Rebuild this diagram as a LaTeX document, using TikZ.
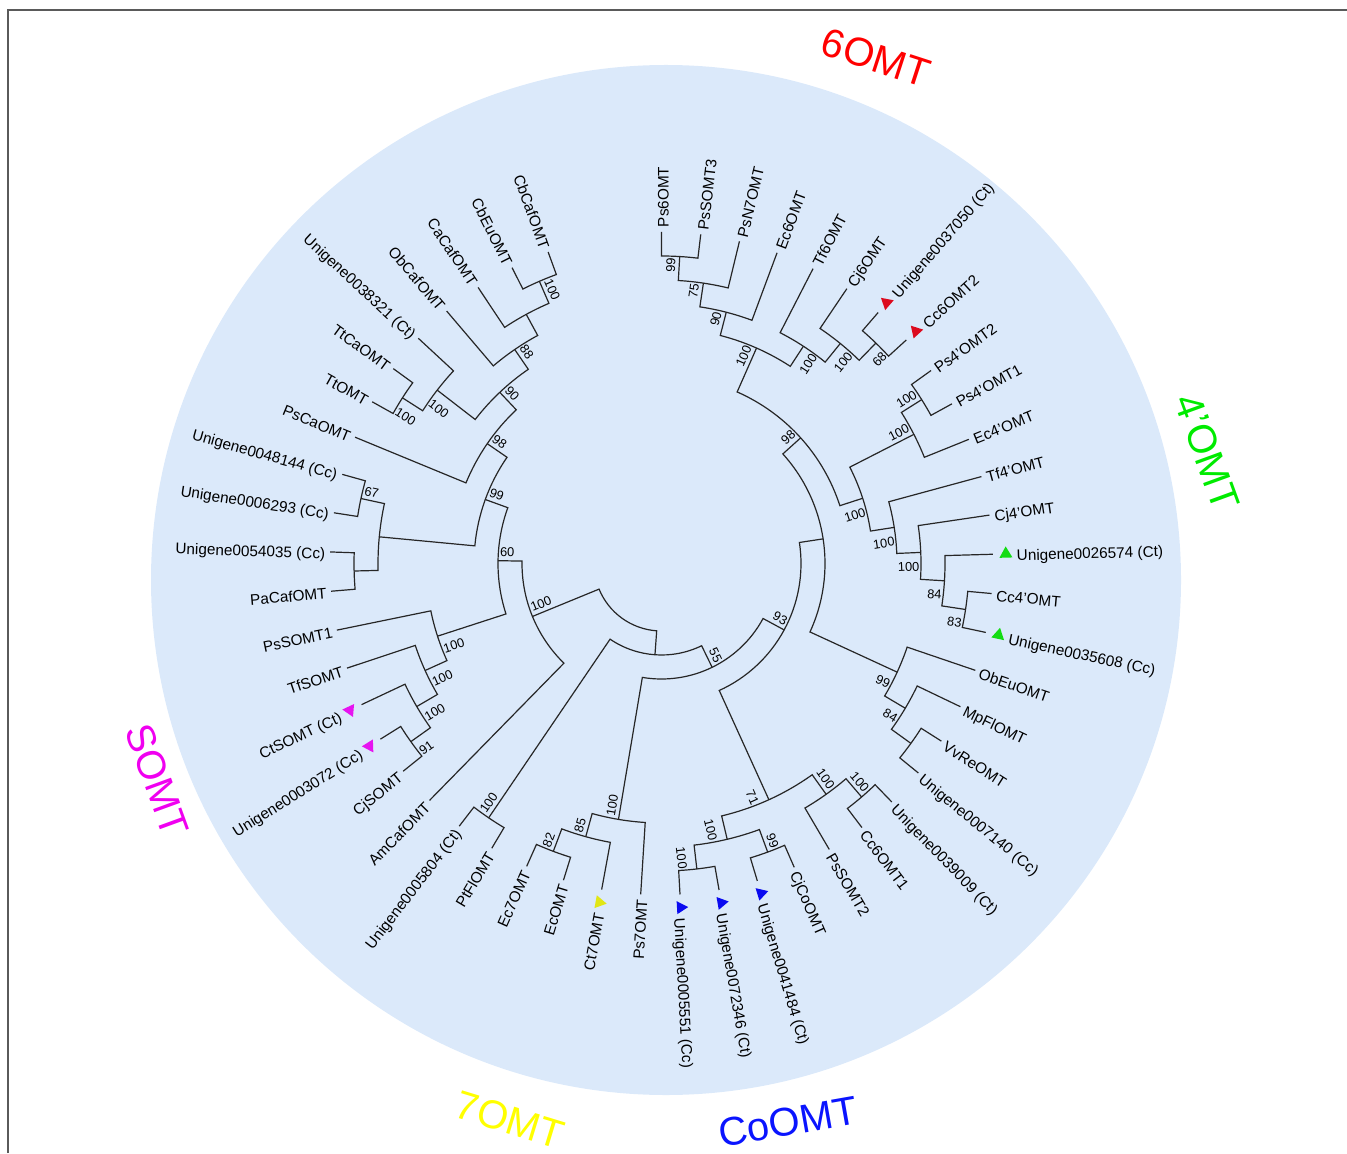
\documentclass[tikz,border=0pt]{standalone}
\usepackage{fontspec}
\setmainfont{Liberation Sans}
\usetikzlibrary{shapes.geometric}

\definecolor{bgblue}{RGB}{219,233,250}
\definecolor{framegray}{RGB}{90,90,90}
\definecolor{tred}{RGB}{220,10,30}
\definecolor{tgreen}{RGB}{20,220,20}
\definecolor{tblue}{RGB}{10,10,240}
\definecolor{tyellow}{RGB}{225,230,20}
\definecolor{tmag}{RGB}{230,20,240}

% leaf tips sit on one circle, every level steps in by \rstep
\newcommand\rleaf{331.5}
\newcommand\rstep{24}

% \leaf[marker colour]{name}{index}{text}
\newcommand\leaf[4][]{%
  \pgfmathsetmacro\ang{90-6.8*#3}%
  \expandafter\xdef\csname th@#2\endcsname{\ang}%
  \coordinate (#2) at (\ang:\rleaf);
  \def\rl{336}%
  \if\relax\detokenize{#1}\relax\else
    \node[tri, fill=#1, rotate=\ang] (#2-m) at (\ang:344.5) {};
    \def\rl{355}%
  \fi
  \ifdim\ang pt>-90pt
    \node[leaflab, anchor=west, rotate=\ang] (#2-t) at (\ang:\rl) {#4};
  \else
    \pgfmathsetmacro\rot{\ang+180}%
    \node[leaflab, anchor=east, rotate=\rot] (#2-t) at (\ang:\rl) {#4};
  \fi
}

% \clade{name}{height}{child a}{child b}{support}{side a/b}
\newcommand\clade[6]{%
  \pgfmathsetmacro\ta{\csname th@#3\endcsname}%
  \pgfmathsetmacro\tb{\csname th@#4\endcsname}%
  \pgfmathsetmacro\tn{(\ta+\tb)/2}%
  \pgfmathsetmacro\rn{\rleaf-\rstep*#2}%
  \expandafter\xdef\csname th@#1\endcsname{\tn}%
  \coordinate (#1) at (\tn:\rn);
  \draw[branch] (#3) -- (\ta:\rn) arc[start angle=\ta, end angle=\tb, radius=\rn] -- (#4);
  \if\relax\detokenize{#5}\relax\else
    \ifdim\tn pt>-90pt
      \edef\rot{\tn}%
      \if#6a\def\anc{south east}\else\def\anc{north east}\fi
    \else
      \pgfmathsetmacro\rot{\tn+180}%
      \if#6a\def\anc{north west}\else\def\anc{south west}\fi
    \fi
    \node[bslab, anchor=\anc, rotate=\rot] (#1-b) at (#1) {#5};
  \fi
}

\begin{document}
\begin{tikzpicture}[x=0.5pt, y=0.5pt,
    branch/.style={line width=0.6pt, draw=black!85},
    leaflab/.style={inner sep=0pt, font=\fontsize{7.65}{9}\selectfont, text height=0.72em, text depth=0pt},
    bslab/.style={inner xsep=0.8pt, inner ysep=1.8pt, font=\fontsize{6.4}{7}\selectfont, text height=0.72em, text depth=0pt},
    tri/.style={regular polygon, regular polygon sides=3, minimum size=7.5pt, inner sep=0pt},
    grouplab/.style={font=\fontsize{20}{24}\selectfont, inner sep=0pt}
  ]
  \useasboundingbox (0,0) rectangle (1347,1153);
  \fill[bgblue] (666,573) circle[radius=515];
  \draw[framegray, line width=0.7pt] (8,0) -- (8,1143) -- (1347,1143);

  \begin{scope}[shift={(661.5,589.5)}]
    % leaves, clockwise from the top
    \leaf{ps6omt}{0}{Ps6OMT}
    \leaf{pssomt3}{1}{PsSOMT3}
    \leaf{psn7omt}{2}{PsN7OMT}
    \leaf{ec6omt}{3}{Ec6OMT}
    \leaf{tf6omt}{4}{Tf6OMT}
    \leaf{cj6omt}{5}{Cj6OMT}
    \leaf[tred]{u37050}{6}{Unigene0037050 (Ct)}
    \leaf[tred]{cc6omt2}{7}{Cc6OMT2}
    \leaf{ps4omt2}{8}{Ps4’OMT2}
    \leaf{ps4omt1}{9}{Ps4’OMT1}
    \leaf{ec4omt}{10}{Ec4’OMT}
    \leaf{tf4omt}{11}{Tf4’OMT}
    \leaf{cj4omt}{12}{Cj4’OMT}
    \leaf[tgreen]{u26574}{13}{Unigene0026574 (Ct)}
    \leaf{cc4omt}{14}{Cc4’OMT}
    \leaf[tgreen]{u35608}{15}{Unigene0035608 (Cc)}
    \leaf{obeuomt}{16}{ObEuOMT}
    \leaf{mpflomt}{17}{MpFlOMT}
    \leaf{vvreomt}{18}{VvReOMT}
    \leaf{u07140}{19}{Unigene0007140 (Cc)}
    \leaf{u39009}{20}{Unigene0039009 (Ct)}
    \leaf{cc6omt1}{21}{Cc6OMT1}
    \leaf{pssomt2}{22}{PsSOMT2}
    \leaf{cjcoomt}{23}{CjCoOMT}
    \leaf[tblue]{u41484}{24}{Unigene0041484 (Ct)}
    \leaf[tblue]{u72346}{25}{Unigene0072346 (Ct)}
    \leaf[tblue]{u05551}{26}{Unigene0005551 (Cc)}
    \leaf{ps7omt}{27}{Ps7OMT}
    \leaf[tyellow]{ct7omt}{28}{Ct7OMT}
    \leaf{ecomt}{29}{EcOMT}
    \leaf{ec7omt}{30}{Ec7OMT}
    \leaf{ptflomt}{31}{PtFlOMT}
    \leaf{u05804}{32}{Unigene0005804 (Ct)}
    \leaf{amcafomt}{33}{AmCafOMT}
    \leaf{cjsomt}{34}{CjSOMT}
    \leaf[tmag]{u03072}{35}{Unigene0003072 (Cc)}
    \leaf[tmag]{ctsomt}{36}{CtSOMT (Ct)}
    \leaf{tfsomt}{37}{TfSOMT}
    \leaf{pssomt1}{38}{PsSOMT1}
    \leaf{pacafomt}{39}{PaCafOMT}
    \leaf{u54035}{40}{Unigene0054035 (Cc)}
    \leaf{u06293}{41}{Unigene0006293 (Cc)}
    \leaf{u48144}{42}{Unigene0048144 (Cc)}
    \leaf{pscaomt}{43}{PsCaOMT}
    \leaf{ttomt}{44}{TtOMT}
    \leaf{ttcaomt}{45}{TtCaOMT}
    \leaf{u38321}{46}{Unigene0038321 (Ct)}
    \leaf{obcafomt}{47}{ObCafOMT}
    \leaf{cacafomt}{48}{CaCafOMT}
    \leaf{cbeuomt}{49}{CbEuOMT}
    \leaf{cbcafomt}{50}{CbCafOMT}

    % 6OMT
    \clade{n6a}{1}{ps6omt}{pssomt3}{99}{a}
    \clade{n6b}{2}{n6a}{psn7omt}{75}{a}
    \clade{n6c}{3}{n6b}{ec6omt}{90}{a}
    \clade{n6d}{1}{u37050}{cc6omt2}{68}{b}
    \clade{n6e}{2}{cj6omt}{n6d}{100}{b}
    \clade{n6f}{3}{tf6omt}{n6e}{100}{b}
    \clade{n6}{4}{n6c}{n6f}{100}{a}
    % 4'OMT
    \clade{n4a}{1}{ps4omt2}{ps4omt1}{100}{a}
    \clade{n4b}{2}{n4a}{ec4omt}{100}{a}
    \clade{n4c}{1}{cc4omt}{u35608}{83}{b}
    \clade{n4d}{2}{u26574}{n4c}{84}{b}
    \clade{n4e}{3}{cj4omt}{n4d}{100}{b}
    \clade{n4f}{4}{tf4omt}{n4e}{100}{b}
    \clade{n4}{5}{n4b}{n4f}{100}{b}
    \clade{n98}{6}{n6}{n4}{98}{a}
    % ObEuOMT group
    \clade{nOa}{1}{vvreomt}{u07140}{}{b}
    \clade{nOb}{2}{mpflomt}{nOa}{84}{b}
    \clade{nO}{3}{obeuomt}{nOb}{99}{b}
    \clade{nX}{7}{n98}{nO}{}{a}
    % CoOMT
    \clade{nCa}{1}{u39009}{cc6omt1}{100}{a}
    \clade{nCb}{2}{nCa}{pssomt2}{100}{a}
    \clade{nCc}{1}{cjcoomt}{u41484}{99}{a}
    \clade{nCd}{1}{u72346}{u05551}{100}{b}
    \clade{nCe}{2}{nCc}{nCd}{100}{b}
    \clade{nC}{3}{nCb}{nCe}{71}{b}
    \clade{n93}{8}{nX}{nC}{93}{a}
    % 7OMT
    \clade{nSa}{1}{ecomt}{ec7omt}{82}{b}
    \clade{nSb}{2}{ct7omt}{nSa}{85}{b}
    \clade{nS}{3}{ps7omt}{nSb}{100}{b}
    \clade{n55}{9}{n93}{nS}{55}{a}
    \clade{nP}{1}{ptflomt}{u05804}{100}{b}
    \clade{nB}{10}{n55}{nP}{}{a}
    % SOMT
    \clade{nMa}{1}{cjsomt}{u03072}{91}{a}
    \clade{nMb}{2}{nMa}{ctsomt}{100}{a}
    \clade{nMc}{3}{nMb}{tfsomt}{100}{a}
    \clade{nM}{4}{nMc}{pssomt1}{100}{a}
    \clade{nUa}{1}{pacafomt}{u54035}{}{a}
    \clade{nUb}{1}{u06293}{u48144}{67}{b}
    \clade{nU}{2}{nUa}{nUb}{}{a}
    % CafOMT
    \clade{nFa}{1}{ttomt}{ttcaomt}{100}{a}
    \clade{nFb}{2}{nFa}{u38321}{100}{a}
    \clade{nFc}{1}{cbeuomt}{cbcafomt}{100}{b}
    \clade{nFd}{2}{cacafomt}{nFc}{}{b}
    \clade{nFe}{3}{obcafomt}{nFd}{88}{b}
    \clade{nFf}{4}{nFb}{nFe}{90}{b}
    \clade{nF}{5}{pscaomt}{nFf}{98}{b}
    \clade{n99}{6}{nU}{nF}{99}{b}
    \clade{n60}{7}{nM}{n99}{60}{b}
    \clade{nA}{8}{amcafomt}{n60}{100}{b}
    \clade{root}{11}{nB}{nA}{}{a}
  \end{scope}

  \node[grouplab, text=red, rotate=-18] (g6) at (876,1095) {6OMT};
  \node[grouplab, text={rgb,255:red,0;green,235;blue,0}, rotate=-70] (g4) at (1207,701) {4’OMT};
  \node[grouplab, text={rgb,255:red,240;green,0;blue,240}, rotate=-70] (gS) at (157,373) {SOMT};
  \node[grouplab, text={rgb,255:red,255;green,255;blue,0}, rotate=-17] (g7) at (510,33) {7OMT};
  \node[grouplab, text={rgb,255:red,10;green,20;blue,255}, rotate=10] (gC) at (788,31) {CoOMT};
\end{tikzpicture}
\end{document}
